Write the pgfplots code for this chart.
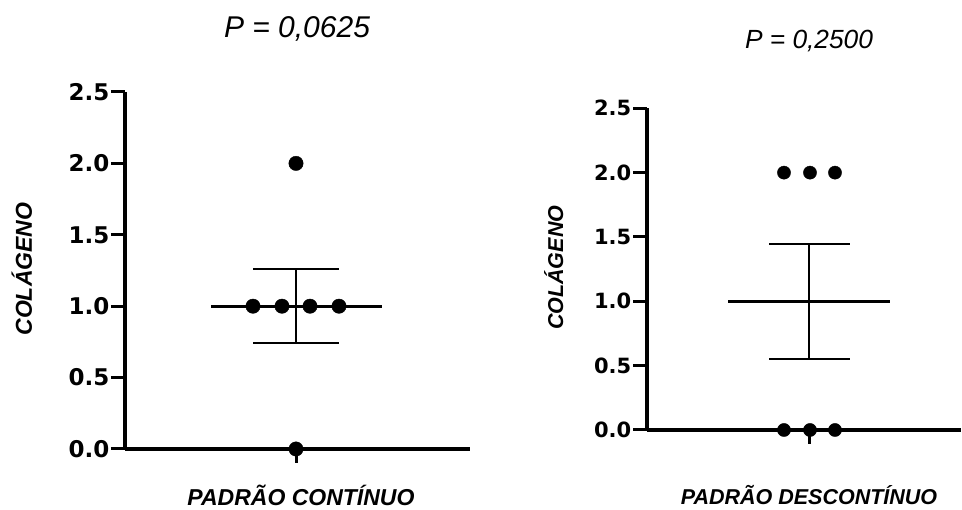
\documentclass[border=0pt]{standalone}
\usepackage{fontspec}
\setmainfont{Liberation Sans}
\newfontfamily\dejavu{DejaVu Sans}
\usepackage{pgfplots}
\pgfplotsset{compat=1.18}
\begin{document}
\begin{tikzpicture}[x=1pt,y=1pt]
\useasboundingbox (0,0) rectangle (962,510);
\pgfplotsset{
  gp/.style={
    scale only axis,
    axis lines=left,
    axis line style={line width=3.2pt, -},
    ymin=0, ymax=2.5,
    ytick={0,0.5,1,1.5,2,2.5},
    xtick={0}, xticklabels={},
    tick align=outside,
    major tick length=14pt,
    every tick/.style={line width=3pt, black},
    /pgf/number format/assume math mode=true,
    /pgf/number format/.cd, fixed, fixed zerofill, precision=1,
    /pgfplots/.cd,
    clip=false,
    every axis title shift=0pt,
    yticklabel style={inner sep=1.5pt},
    title style={anchor=base},
    xlabel style={anchor=base},
    ylabel style={anchor=base, rotate=0},
  }
}
% ---------- left panel ----------
\begin{axis}[gp,
  at={(125pt,61pt)}, anchor=south west,
  width=345pt, height=357pt,
  xmin=-171, xmax=174,
  yticklabel style={font=\dejavu\bfseries\fontsize{23}{23}\selectfont},
  title={\fontsize{30}{30}\selectfont\itshape P = 0,0625},
  title style={at={(axis description cs:0.4986,1.154)}},
  xlabel={\fontsize{23}{23}\selectfont\bfseries\itshape PADRÃO CONTÍNUO},
  xlabel style={at={(axis description cs:0.510,-0.157)}},
  ylabel={\fontsize{23}{23}\selectfont\bfseries\itshape COLÁGENO},
  ylabel style={at={(axis description cs:-0.2696,0.504)}},
]
% mean
\addplot[line width=3.3pt] coordinates {(-85,1) (86,1)};
% SEM
\addplot[line width=1.8pt] coordinates {(0,0.742) (0,1.258)};
\addplot[line width=1.8pt] coordinates {(-43,1.258) (43,1.258)};
\addplot[line width=1.8pt] coordinates {(-43,0.742) (43,0.742)};
% individual values
\addplot[only marks, mark=*, mark size=7.2pt, mark options={draw=black, fill=black}]
  coordinates {(0,2) (-43,1) (-14,1) (14,1) (43,1) (0,0)};
\end{axis}
% ---------- right panel ----------
\begin{axis}[gp,
  at={(647pt,80pt)}, anchor=south west,
  width=314pt, height=321.7pt,
  xmin=-162, xmax=152,
  yticklabel style={font=\dejavu\bfseries\fontsize{21}{21}\selectfont},
  title={\fontsize{26.3}{26.3}\selectfont\itshape P = 0,2500},
  title style={at={(axis description cs:0.516,1.187)}},
  xlabel={\fontsize{21.5}{21.5}\selectfont\bfseries\itshape PADRÃO DESCONTÍNUO},
  xlabel style={at={(axis description cs:0.516,-0.233)}},
  ylabel={\fontsize{21.5}{21.5}\selectfont\bfseries\itshape COLÁGENO},
  ylabel style={at={(axis description cs:-0.2675,0.504)}},
]
\addplot[line width=3.3pt] coordinates {(-81,1) (81,1)};
\addplot[line width=1.8pt] coordinates {(0,0.553) (0,1.447)};
\addplot[line width=1.8pt] coordinates {(-40,1.447) (41,1.447)};
\addplot[line width=1.8pt] coordinates {(-40,0.553) (41,0.553)};
\addplot[only marks, mark=*, mark size=6.6pt, mark options={draw=black, fill=black}]
  coordinates {(-25,2) (1,2) (26,2) (-25,0) (1,0) (26,0)};
\end{axis}
\end{tikzpicture}
\end{document}
